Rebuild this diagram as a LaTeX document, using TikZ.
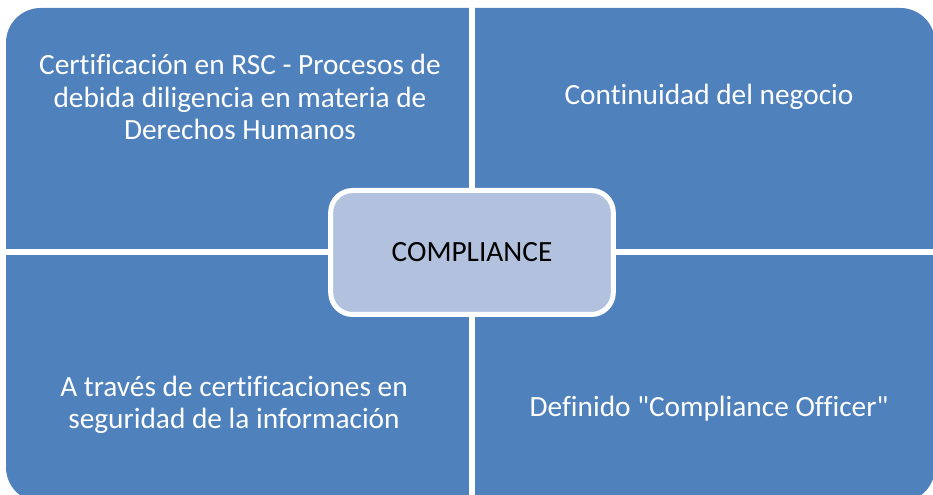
\documentclass[tikz,border=0pt]{standalone}
\usepackage{fontspec}
\setmainfont{Carlito}[Ligatures=CommonOff]
\definecolor{quadblue}{RGB}{79,129,189}
\definecolor{midblue}{RGB}{178,194,222}

\begin{document}
\begin{tikzpicture}[x=0.75pt,y=-0.75pt,
  quad text/.style={text=white,align=center,font=\fontsize{22}{24.4}\selectfont},
  main node/.style={draw=white,line width=3.75pt,fill=midblue,rounded corners=16.5pt,
    minimum width=212pt,minimum height=93pt,font=\fontsize{22}{24.4}\selectfont}]
  \useasboundingbox (0,0) rectangle (933,495);
  \fill[quadblue,rounded corners=26pt] (6,8) rectangle (935,502);
  \draw[white,line width=4.5pt] (472,0) -- (472,500);
  \draw[white,line width=4.5pt] (0,252) -- (940,252);
  \node[quad text] (tl) at (240,97) {Certificación en RSC - Procesos de\\debida diligencia en materia de\\Derechos Humanos};
  \node[quad text] (tr) at (709,97)  {Continuidad del negocio};
  \node[quad text] (bl) at (234,405) {A través de certificaciones en\\seguridad de la información};
  \node[quad text] (br) at (709,409) {Definido \textquotedbl Compliance Officer\textquotedbl};
  \node[main node] (comp) at (472,252.5) {COMPLIANCE};
\end{tikzpicture}
\end{document}
